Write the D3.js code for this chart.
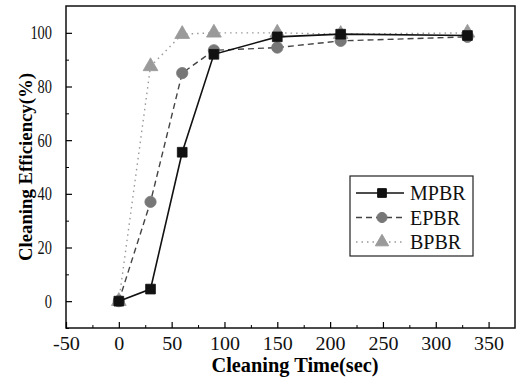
<!DOCTYPE html>
<html>
<head>
<meta charset="utf-8">
<script src="https://cdn.jsdelivr.net/npm/d3@7"></script>
<style>
  html, body { margin: 0; padding: 0; background: #fff; }
  svg { display: block; font-family: "Liberation Serif", "DejaVu Serif", serif; }
</style>
</head>
<body>
<svg id="chart" width="517" height="380"></svg>
<script>
// Data
const times = [0, 30, 60, 90, 150, 210, 330];
const mpbr = [0, 4.5, 55.5, 92, 98.5, 99.5, 99];
const epbr = [0, 37, 85, 93.5, 94.5, 97, 98.5];
const bpbr = [0, 87.5, 99.5, 100, 100, 99.5, 100];
const xTicks = [-50, 0, 50, 100, 150, 200, 250, 300, 350];
const yTicks = [0, 20, 40, 60, 80, 100];

const series = [
  { name: "MPBR", values: mpbr, color: "#111", fill: "#111", dash: null, width: 1.6, marker: d3.symbolSquare, size: 95 },
  { name: "EPBR", values: epbr, color: "#444", fill: "#777", dash: "6,4", width: 1.4, marker: d3.symbolCircle, size: 100 },
  { name: "BPBR", values: bpbr, color: "#999", fill: "#9a9a9a", dash: "1.5,4", width: 1.4, marker: d3.symbolTriangle, size: 95 }
];

const serif = "Liberation Serif, DejaVu Serif, serif";
const svg = d3.select("#chart");
const margin = { top: 6, right: 2, bottom: 52, left: 66 };
const width = 517, height = 380;
const innerW = width - margin.left - margin.right;
const innerH = height - margin.top - margin.bottom;

const x = d3.scaleLinear().domain([-50, 375]).range([0, innerW]);
const y = d3.scaleLinear().domain([-10, 110]).range([innerH, 0]);

const g = svg.append("g").attr("transform", `translate(${margin.left},${margin.top})`);

// Frame
g.append("rect")
  .attr("width", innerW).attr("height", innerH)
  .attr("fill", "none").attr("stroke", "#111").attr("stroke-width", 1.5);

// Minor ticks (inward)
const xMinor = d3.range(-25, 375, 50);
const yMinor = d3.range(-10, 110, 20);

g.append("g")
  .attr("transform", `translate(0,${innerH})`)
  .call(d3.axisBottom(x).tickValues(xMinor).tickSize(-3).tickFormat(""))
  .call(ax => ax.select(".domain").remove());

g.append("g")
  .call(d3.axisLeft(y).tickValues(yMinor).tickSize(-3).tickFormat(""))
  .call(ax => ax.select(".domain").remove());

// Major ticks and labels (plain hyphen for negatives, as in the original)
const fmt = d => String(d);
// the scanned original is stretched: x labels come out wide, y labels narrow
const labelWidth = (s, digitW) => s.split("").reduce((w, c) => w + (c === "-" ? digitW * 0.7 : digitW), 0);

g.append("g")
  .attr("transform", `translate(0,${innerH})`)
  .call(d3.axisBottom(x).tickValues(xTicks).tickFormat(fmt).tickSize(-6).tickPadding(9))
  .call(ax => {
    ax.attr("font-family", null).attr("font-size", null);
    ax.select(".domain").remove();
    ax.selectAll("line").attr("stroke-width", 1.2);
    ax.selectAll("text").attr("fill", "#111")
      .style("font-family", serif).style("font-size", "19px")
      .attr("textLength", d => labelWidth(fmt(d), 10))
      .attr("lengthAdjust", "spacingAndGlyphs");
  });

g.append("g")
  .call(d3.axisLeft(y).tickValues(yTicks).tickFormat(fmt).tickSize(-6).tickPadding(14))
  .call(ax => {
    ax.attr("font-family", null).attr("font-size", null);
    ax.select(".domain").remove();
    ax.selectAll("line").attr("stroke-width", 1.2);
    ax.selectAll("text").attr("fill", "#111")
      .style("font-family", serif).style("font-size", "19px")
      .attr("textLength", d => labelWidth(fmt(d), 7.2))
      .attr("lengthAdjust", "spacingAndGlyphs");
  });

// Axis titles
svg.append("text")
  .attr("x", 295)
  .attr("y", 372)
  .attr("text-anchor", "middle")
  .style("font-family", serif)
  .style("font-size", "20px").style("font-weight", "bold")
  .attr("textLength", 167).attr("lengthAdjust", "spacingAndGlyphs")
  .text("Cleaning Time(sec)");

svg.append("text")
  .attr("transform", `translate(32,167) rotate(-90)`)
  .attr("text-anchor", "middle")
  .style("font-family", serif)
  .style("font-size", "19px").style("font-weight", "bold")
  .attr("textLength", 188).attr("lengthAdjust", "spacingAndGlyphs")
  .text("Cleaning Efficiency(%)");

// Lines and markers (draw BPBR first so MPBR sits on top)
const line = d3.line().x((d, i) => x(times[i])).y(d => y(d));

[...series].reverse().forEach(s => {
  g.append("path")
    .datum(s.values)
    .attr("d", line)
    .attr("fill", "none")
    .attr("stroke", s.color)
    .attr("stroke-width", s.width)
    .attr("stroke-dasharray", s.dash);

  g.selectAll(null)
    .data(s.values)
    .enter()
    .append("path")
    .attr("d", d3.symbol().type(s.marker).size(s.size))
    .attr("transform", (d, i) => `translate(${x(times[i])},${y(d)})`)
    .attr("fill", s.fill)
    .attr("stroke", s.fill)
    .attr("stroke-width", 0.8);
});

// Legend
const lg = svg.append("g").attr("transform", "translate(350,176)");
lg.append("rect")
  .attr("width", 123).attr("height", 80)
  .attr("fill", "#fff").attr("stroke", "#222").attr("stroke-width", 1.2);

series.forEach((s, i) => {
  const cy = 17 + i * 24.5;
  lg.append("line")
    .attr("x1", 6).attr("x2", 54).attr("y1", cy).attr("y2", cy)
    .attr("stroke", s.color).attr("stroke-width", s.width)
    .attr("stroke-dasharray", s.dash);
  lg.append("path")
    .attr("d", d3.symbol().type(s.marker).size(s.size * 0.8))
    .attr("transform", `translate(32,${cy})`)
    .attr("fill", s.fill).attr("stroke", s.fill);
  lg.append("text")
    .attr("x", 60).attr("y", cy + 7)
    .style("font-family", serif)
    .style("font-size", "20px").attr("fill", "#111")
    .text(s.name);
});
</script>
</body>
</html>
